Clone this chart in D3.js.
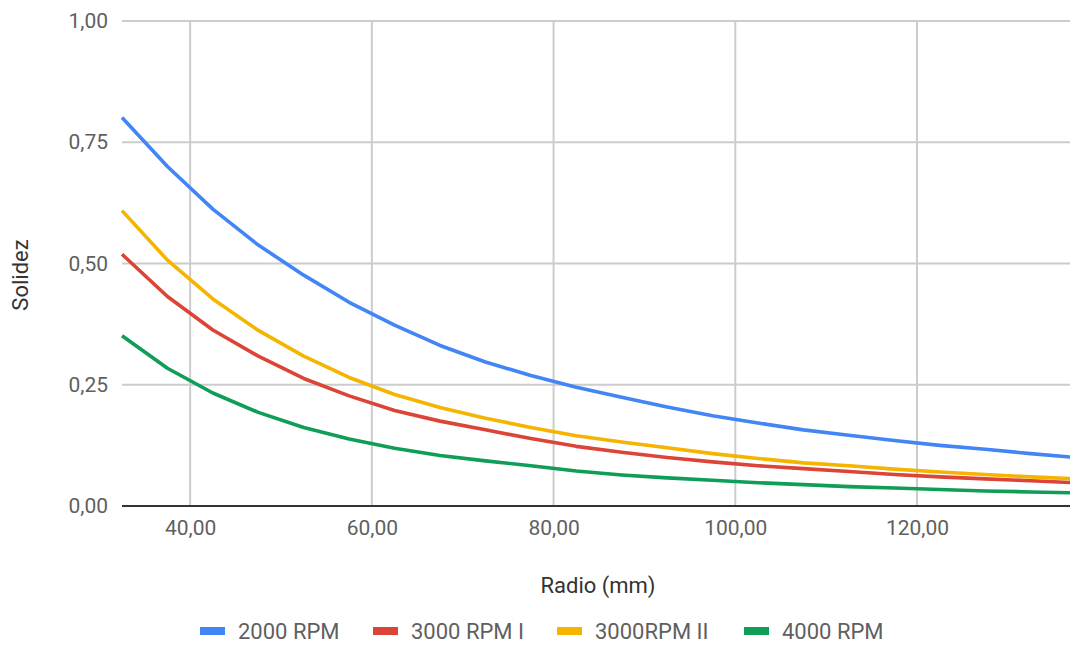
<!DOCTYPE html>
<html>
<head>
<meta charset="utf-8">
<script src="https://cdn.jsdelivr.net/npm/d3@7"></script>
<style>
  html, body { margin: 0; padding: 0; background: #fff; }
  svg { display: block; font-family: Roboto, "Noto Sans", sans-serif; }
</style>
</head>
<body>
<svg id="chart" width="1070" height="648"></svg>
<script>
// ---- data ----
const radio = [32.5, 37.5, 42.5, 47.5, 52.5, 57.5, 62.5, 67.5, 72.5, 77.5, 82.5,
               87.5, 92.5, 97.5, 102.5, 107.5, 112.5, 117.5, 122.5, 127.5, 132.5, 137.5];
const rpm2000  = [0.801, 0.700, 0.612, 0.538, 0.476, 0.420, 0.373, 0.331, 0.297, 0.269, 0.245,
                  0.224, 0.204, 0.186, 0.171, 0.157, 0.146, 0.135, 0.125, 0.117, 0.108, 0.100];
const rpm3000I = [0.519, 0.432, 0.363, 0.309, 0.263, 0.227, 0.197, 0.175, 0.157, 0.139, 0.123,
                  0.111, 0.100, 0.091, 0.083, 0.077, 0.071, 0.065, 0.060, 0.056, 0.052, 0.048];
const rpm3000II = [0.609, 0.507, 0.427, 0.362, 0.309, 0.265, 0.230, 0.203, 0.181, 0.162, 0.145,
                   0.132, 0.120, 0.108, 0.098, 0.089, 0.083, 0.076, 0.070, 0.065, 0.060, 0.056];
const rpm4000  = [0.351, 0.284, 0.233, 0.193, 0.162, 0.138, 0.119, 0.104, 0.093, 0.083, 0.072,
                  0.064, 0.058, 0.053, 0.048, 0.044, 0.040, 0.037, 0.034, 0.031, 0.029, 0.027];
const seriesNames = ["2000 RPM", "3000 RPM I", "3000RPM II", "4000 RPM"];
const seriesColors = ["#4285F4", "#DB4437", "#F4B400", "#0F9D58"];
const xTicks = [40, 60, 80, 100, 120];
const yTicks = [0, 0.25, 0.5, 0.75, 1.0];
const xTitle = "Radio (mm)";
const yTitle = "Solidez";

const seriesValues = [rpm2000, rpm3000I, rpm3000II, rpm4000];

// ---- layout ----
const svg = d3.select("#chart");
const pLeft = 122, pRight = 1076, pTop = 21, pBottom = 506;
const x = d3.scaleLinear().domain([32.5, 137.5]).range([pLeft, pRight]);
const y = d3.scaleLinear().domain([0, 1]).range([pBottom, pTop]);
const fmt = v => d3.format(".2f")(v).replace(".", ",");

// grid
const g = svg.append("g");
g.selectAll(".vgrid").data(xTicks).join("line")
  .attr("x1", d => x(d)).attr("x2", d => x(d))
  .attr("y1", pTop).attr("y2", pBottom)
  .attr("stroke", "#cccccc").attr("stroke-width", 2);
g.selectAll(".hgrid").data(yTicks.filter(d => d > 0)).join("line")
  .attr("x1", pLeft).attr("x2", 1070)
  .attr("y1", d => y(d)).attr("y2", d => y(d))
  .attr("stroke", "#cccccc").attr("stroke-width", 2);

// axes labels via d3 axes
const yAxis = d3.axisLeft(y).tickValues(yTicks).tickFormat(fmt).tickSize(0).tickPadding(14);
const yg = svg.append("g").attr("transform", `translate(${pLeft},0)`).call(yAxis);
yg.select(".domain").remove();
yg.selectAll("text").attr("fill", "#5f5f5f").style("font-size", "21px")
  .style("font-family", "Roboto, sans-serif");

const xAxis = d3.axisBottom(x).tickValues(xTicks).tickFormat(fmt).tickSize(0).tickPadding(14);
const xg = svg.append("g").attr("transform", `translate(0,${pBottom})`).call(xAxis);
xg.select(".domain").remove();
xg.selectAll("text").attr("fill", "#5f5f5f").style("font-size", "21px")
  .style("font-family", "Roboto, sans-serif");

// lines
const line = d3.line().x((d, i) => x(radio[i])).y(d => y(d));
svg.selectAll(".series").data(seriesValues).join("path")
  .attr("d", d => line(d))
  .attr("fill", "none")
  .attr("stroke", (d, i) => seriesColors[i])
  .attr("stroke-width", 3.6)
  .attr("stroke-linejoin", "round");

// baseline
svg.append("line")
  .attr("x1", pLeft).attr("x2", 1070)
  .attr("y1", y(0)).attr("y2", y(0))
  .attr("stroke", "#333333").attr("stroke-width", 2);

// titles
svg.append("text").attr("x", 598).attr("y", 593)
  .attr("text-anchor", "middle").attr("fill", "#333")
  .style("font-size", "22px").text(xTitle);
svg.append("text")
  .attr("transform", "translate(28,275) rotate(-90)")
  .attr("text-anchor", "middle").attr("fill", "#333")
  .style("font-size", "22px").text(yTitle);

// legend
const legendX = [200, 373, 557, 744];
const lg = svg.append("g");
seriesNames.forEach((name, i) => {
  lg.append("rect").attr("x", legendX[i]).attr("y", 627).attr("width", 25).attr("height", 8)
    .attr("fill", seriesColors[i]);
  lg.append("text").attr("x", legendX[i] + 38).attr("y", 639)
    .attr("fill", "#5f5f5f").style("font-size", "22px").text(name);
});
</script>
</body>
</html>
